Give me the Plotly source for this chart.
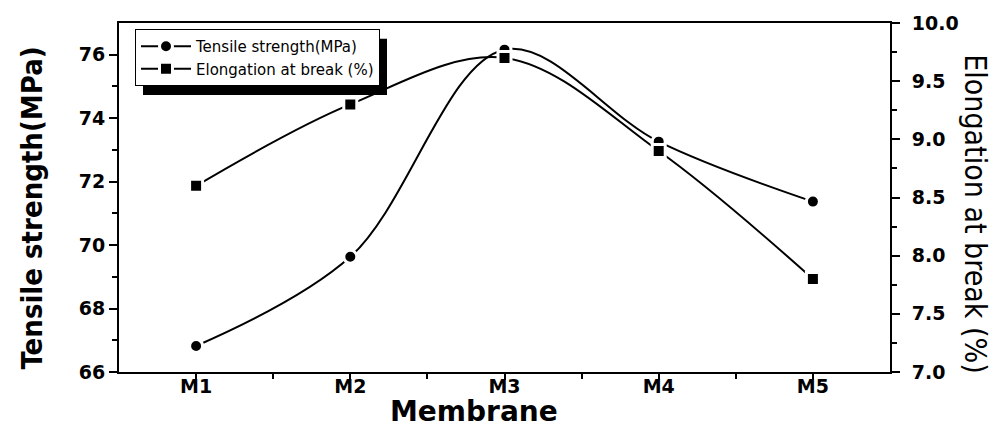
import plotly.graph_objects as go

membranes = ["M1", "M2", "M3", "M4", "M5"]
tensile = [66.82, 69.63, 76.16, 73.26, 71.37]
elongation = [8.6, 9.3, 9.7, 8.9, 7.8]
left_ticks = [66, 68, 70, 72, 74, 76]
left_minor = [67, 69, 71, 73, 75]
right_ticks = [7.0, 7.5, 8.0, 8.5, 9.0, 9.5, 10.0]
right_minor = [7.25, 7.75, 8.25, 8.75, 9.25, 9.75]
x_pos = list(range(len(membranes)))
x_minor = [0.5, 1.5, 2.5, 3.5]

W, H = 1006, 431
ML, MR, MT, MB = 119, 116, 18, 59
PW, PH = W - ML - MR, H - MT - MB


def px(xp):
    return (xp - ML) / PW


def py(yp):
    return (H - MB - yp) / PH


fig = go.Figure()
fig.add_trace(go.Scatter(
    x=x_pos, y=tensile, name="Tensile strength(MPa)", mode="lines+markers",
    line=dict(color="black", width=2, shape="spline", smoothing=1),
    marker=dict(symbol="circle", size=13, color="black", line=dict(color="white", width=3)),
))
fig.add_trace(go.Scatter(
    x=x_pos, y=elongation, name="Elongation at break (%)", mode="lines+markers", yaxis="y2",
    line=dict(color="black", width=2, shape="spline", smoothing=1),
    marker=dict(symbol="square", size=13, color="black", line=dict(color="white", width=3)),
))

tickfont = dict(family="DejaVu Sans", size=19, color="black", weight="bold")
axis_common = dict(showline=True, linewidth=2, linecolor="black", showgrid=False,
                   zeroline=False, ticks="outside", tickwidth=2, tickcolor="black")

# legend drop shadow (legend box approx. 135..380 x 28..85 px)
shadow = dict(type="rect", xref="paper", yref="paper", layer="below",
              x0=px(143), x1=px(387), y0=py(91), y1=py(34),
              fillcolor="black", line=dict(width=0))

fig.update_layout(
    width=W, height=H, autosize=False,
    margin=dict(l=ML, r=MR, t=MT, b=MB, pad=0),
    paper_bgcolor="white", plot_bgcolor="white",
    showlegend=True,
    xaxis=dict(range=[-0.5, 4.5], tickmode="array", tickvals=x_pos, ticktext=membranes,
               ticklen=6, mirror=True, ticklabelstandoff=-10,
               tickfont=dict(family="DejaVu Sans", size=19, color="black", weight="bold"),
               minor=dict(tickmode="array", tickvals=x_minor, ticks="outside", ticklen=5, tickwidth=2, tickcolor="black"),
               **axis_common),
    yaxis=dict(range=[66, 77], tickmode="array", tickvals=left_ticks, ticklen=8, tickfont=tickfont,
               minor=dict(tickmode="array", tickvals=left_minor, ticks="outside", ticklen=5, tickwidth=2, tickcolor="black"),
               **axis_common),
    yaxis2=dict(range=[7, 10], overlaying="y", side="right", tickmode="array", tickvals=right_ticks,
                tickformat=".1f", ticklen=8, tickfont=tickfont, ticklabelstandoff=8,
                minor=dict(tickmode="array", tickvals=right_minor, ticks="outside", ticklen=5, tickwidth=2, tickcolor="black"),
                **axis_common),
    legend=dict(x=px(135), y=py(24), xanchor="left", yanchor="top", bgcolor="white",
                bordercolor="black", borderwidth=1, itemwidth=50, tracegroupgap=0,
                font=dict(family="DejaVu Sans", size=15, color="black")),
    shapes=[shadow],
    annotations=[
        dict(text="Tensile strength(MPa)", xref="paper", yref="paper", x=px(32), y=py(206),
             textangle=-90, showarrow=False, xanchor="center", yanchor="middle",
             font=dict(family="DejaVu Sans Condensed", size=29, color="black", weight="bold")),
        dict(text="Elongation at break (%)", xref="paper", yref="paper", x=px(976), y=py(211),
             textangle=90, showarrow=False, xanchor="center", yanchor="middle",
             font=dict(family="DejaVu Sans Condensed", size=30, color="black")),
        dict(text="Membrane", xref="paper", yref="paper", x=px(474), y=py(431),
             showarrow=False, xanchor="center", yanchor="bottom",
             font=dict(family="DejaVu Sans", size=28, color="black", weight="bold")),
    ],
)

fig.write_html("out.html")
